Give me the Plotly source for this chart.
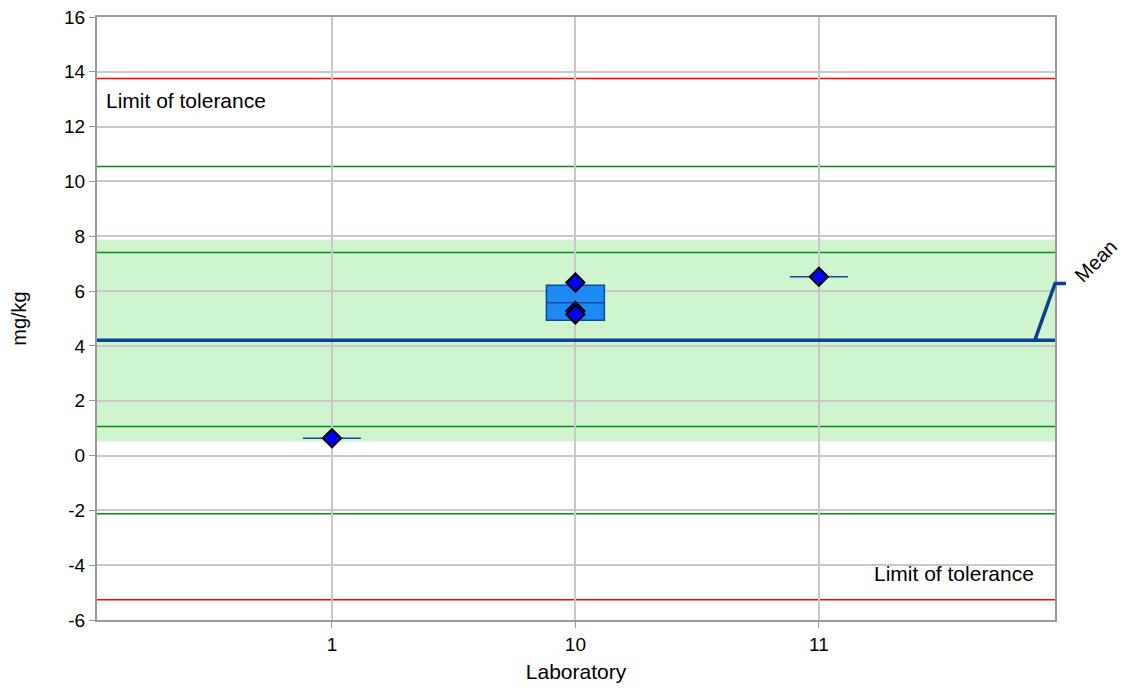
import numpy as np
import plotly.graph_objects as go

# ---- data ----
labs = ["1", "10", "11"]
lab_values = {
    "1": [0.63],
    "10": [6.31, 5.27, 5.15],
    "11": [6.52],
}
mean_value = 4.21
tol_upper = 13.76
tol_lower = -5.26
green_lines = [10.55, 7.41, 1.06, -2.12]
band_low, band_high = 0.51, 7.88
y_ticks = [-6, -4, -2, 0, 2, 4, 6, 8, 10, 12, 14, 16]

fig = go.Figure()

pos = {lab: i + 1 for i, lab in enumerate(labs)}

# boxes: mean +/- sd of each lab
for lab in labs:
    v = np.array(lab_values[lab])
    m = v.mean()
    sd = v.std(ddof=1) if len(v) > 1 else 0.0
    fig.add_trace(go.Box(
        x=[pos[lab]], q1=[m - sd], median=[m], q3=[m + sd],
        lowerfence=[m - sd], upperfence=[m + sd],
        width=0.238, fillcolor="#1e88f5",
        line=dict(color="#0d4a9a", width=1.5),
        boxpoints=False, showlegend=False, hoverinfo="skip",
    ))

# points
for lab in labs:
    v = lab_values[lab]
    fig.add_trace(go.Scatter(
        x=[pos[lab]] * len(v), y=v, mode="markers",
        marker=dict(symbol="diamond", size=14, color="#0000ff",
                    line=dict(color="black", width=2)),
        showlegend=False,
    ))

shapes = []
shapes.append(dict(type="rect", xref="paper", yref="y", x0=0, x1=1,
                   y0=band_low, y1=band_high, fillcolor="#cff5cf",
                   line=dict(width=0), layer="below"))
for g in green_lines:
    shapes.append(dict(type="line", xref="paper", yref="y", x0=0, x1=1,
                       y0=g, y1=g, line=dict(color="#0a8a0a", width=1.5),
                       layer="between"))
for t in [tol_upper, tol_lower]:
    shapes.append(dict(type="line", xref="paper", yref="y", x0=0, x1=1,
                       y0=t, y1=t, line=dict(color="#ff0000", width=1.5),
                       layer="between"))
# mean line with connector to label
label_y = mean_value + 2.07
shapes.append(dict(type="line", xref="paper", yref="y", x0=0, x1=1,
                   y0=mean_value, y1=mean_value,
                   line=dict(color="#0b3f91", width=3.5), layer="above"))
shapes.append(dict(type="path", xref="paper", yref="y",
                   path=f"M 0.979 {mean_value} L 1.0 {label_y} L 1.0115 {label_y}",
                   line=dict(color="#0b3f91", width=3.5), layer="above"))

annotations = [
    dict(text="Limit of tolerance", xref="paper", yref="y", x=0.007, y=tol_upper,
         xanchor="left", yanchor="top", yshift=-9, showarrow=False,
         font=dict(size=21, color="black")),
    dict(text="Limit of tolerance", xref="paper", yref="y", x=0.98, y=tol_lower,
         xanchor="right", yanchor="bottom", yshift=13, showarrow=False,
         font=dict(size=21, color="black")),
    dict(text="Mean", xref="paper", yref="y", x=1.013, y=label_y,
         xanchor="left", yanchor="bottom", yshift=-6, textangle=-45, showarrow=False,
         font=dict(size=20, color="black")),
]

fig.update_layout(
    width=1122, height=688,
    margin=dict(l=97, r=67, t=17, b=68),
    plot_bgcolor="white", paper_bgcolor="white",
    font=dict(family="Liberation Sans, Arial, sans-serif", size=19, color="black"),
    shapes=shapes, annotations=annotations,
    xaxis=dict(
        range=[0.035, 3.97], tickvals=[pos[l] for l in labs], ticktext=labs,
        showgrid=True, gridcolor="#c8c8c8", gridwidth=2,
        showline=True, linecolor="#999999", linewidth=2, mirror=True,
        zeroline=False, ticks="outside", ticklen=6, tickcolor="#999999",
        title=dict(text="Laboratory", font=dict(size=21), standoff=11),
        tickfont=dict(size=19), automargin=False,
    ),
    yaxis=dict(
        range=[-6, 16], tickvals=y_ticks, ticktext=[str(t) for t in y_ticks],
        showgrid=True, gridcolor="#c8c8c8", gridwidth=1.5,
        showline=True, linecolor="#999999", linewidth=2, mirror=True,
        zeroline=False, ticks="outside", ticklen=6, tickcolor="#999999",
        title=dict(text="mg/kg", font=dict(size=20), standoff=32),
        tickfont=dict(size=19), automargin=False,
    ),
)

fig.write_html("out.html", post_script="document.body.style.margin='0';",
               config={"displayModeBar": False})
